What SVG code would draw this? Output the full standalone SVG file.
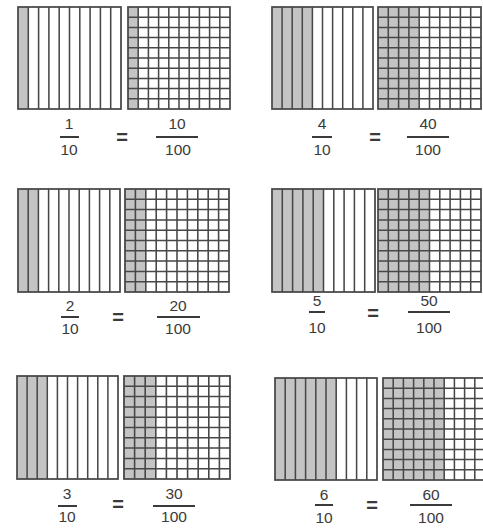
<svg xmlns="http://www.w3.org/2000/svg" width="483" height="532" viewBox="0 0 483 532">
<style>
.bg{fill:#ffffff}
.sh{fill:#c4c4c4}
.ln{stroke:#474747;stroke-width:1.5;fill:none}
.fr{stroke:#474747;stroke-width:1.7;fill:none}
.t{font-family:"Liberation Sans",Arial,sans-serif;font-size:15.5px;fill:#3a3a3a;text-anchor:middle}
.eq{font-family:"Liberation Sans",Arial,sans-serif;font-size:20px;font-weight:bold;fill:#3a3a3a;text-anchor:middle}
.bar{stroke:#3a3a3a;stroke-width:2}
</style>
<defs>
<symbol id="tenths" viewBox="0 0 100 100" preserveAspectRatio="none" overflow="visible">
<path class="ln" d="M10 0V100M20 0V100M30 0V100M40 0V100M50 0V100M60 0V100M70 0V100M80 0V100M90 0V100"/>
<rect class="fr" x="0" y="0" width="100" height="100"/>
</symbol>
<symbol id="hundredths" viewBox="0 0 100 100" preserveAspectRatio="none" overflow="visible">
<path class="ln" d="M10 0V100M20 0V100M30 0V100M40 0V100M50 0V100M60 0V100M70 0V100M80 0V100M90 0V100M0 10H100M0 20H100M0 30H100M0 40H100M0 50H100M0 60H100M0 70H100M0 80H100M0 90H100"/>
<rect class="fr" x="0" y="0" width="100" height="100"/>
</symbol>
</defs>
<rect class="bg" x="0" y="0" width="483" height="532"/>

<g id="panel1">
<rect class="sh" x="18" y="7" width="10.3" height="102"/>
<use href="#tenths" x="18" y="7" width="103" height="102"/>
<rect class="sh" x="128" y="7" width="10.2" height="102"/>
<use href="#hundredths" x="128" y="7" width="102" height="102"/>
<text class="t" x="69" y="129">1</text>
<line class="bar" x1="60" y1="137" x2="79" y2="137"/>
<text class="t" x="69" y="155">10</text>
<text class="eq" x="122" y="144">=</text>
<text class="t" x="177" y="129">10</text>
<line class="bar" x1="156" y1="137" x2="198" y2="137"/>
<text class="t" x="178" y="155">100</text>
</g>

<g id="panel2">
<rect class="sh" x="272" y="7" width="40.4" height="102"/>
<use href="#tenths" x="272" y="7" width="101" height="102"/>
<rect class="sh" x="378" y="7" width="41.2" height="102"/>
<use href="#hundredths" x="378" y="7" width="103" height="102"/>
<text class="t" x="322" y="129">4</text>
<line class="bar" x1="312" y1="137" x2="332" y2="137"/>
<text class="t" x="322" y="155">10</text>
<text class="eq" x="375" y="144">=</text>
<text class="t" x="428" y="129">40</text>
<line class="bar" x1="407" y1="137" x2="449" y2="137"/>
<text class="t" x="428" y="155">100</text>
</g>

<g id="panel3">
<rect class="sh" x="18" y="189" width="20.4" height="103"/>
<use href="#tenths" x="18" y="189" width="102" height="103"/>
<rect class="sh" x="125" y="189" width="20.8" height="103"/>
<use href="#hundredths" x="125" y="189" width="104" height="103"/>
<text class="t" x="70" y="311">2</text>
<line class="bar" x1="61" y1="317" x2="79" y2="317"/>
<text class="t" x="70" y="334">10</text>
<text class="eq" x="118" y="324">=</text>
<text class="t" x="178" y="311">20</text>
<line class="bar" x1="157" y1="317" x2="200" y2="317"/>
<text class="t" x="178" y="334">100</text>
</g>

<g id="panel4">
<rect class="sh" x="272" y="189" width="51.5" height="103"/>
<use href="#tenths" x="272" y="189" width="103" height="103"/>
<rect class="sh" x="378" y="189" width="51.5" height="103"/>
<use href="#hundredths" x="378" y="189" width="103" height="103"/>
<text class="t" x="317" y="306">5</text>
<line class="bar" x1="309" y1="312" x2="325" y2="312"/>
<text class="t" x="317" y="333">10</text>
<text class="eq" x="373" y="320">=</text>
<text class="t" x="429" y="306">50</text>
<line class="bar" x1="408" y1="312" x2="450" y2="312"/>
<text class="t" x="429" y="333">100</text>
</g>

<g id="panel5">
<rect class="sh" x="17" y="376" width="30.3" height="103"/>
<use href="#tenths" x="17" y="376" width="101" height="103"/>
<rect class="sh" x="124" y="376" width="31.8" height="103"/>
<use href="#hundredths" x="124" y="376" width="106" height="103"/>
<text class="t" x="67" y="499">3</text>
<line class="bar" x1="58" y1="506" x2="77" y2="506"/>
<text class="t" x="67" y="522">10</text>
<text class="eq" x="118" y="511">=</text>
<text class="t" x="174" y="499">30</text>
<line class="bar" x1="153" y1="506" x2="195" y2="506"/>
<text class="t" x="174" y="522">100</text>
</g>

<g id="panel6">
<rect class="sh" x="275" y="378" width="61.2" height="102"/>
<use href="#tenths" x="275" y="378" width="102" height="102"/>
<rect class="sh" x="383" y="378" width="61.2" height="102"/>
<use href="#hundredths" x="383" y="378" width="102" height="102"/>
<text class="t" x="324" y="500">6</text>
<line class="bar" x1="315" y1="505" x2="333" y2="505"/>
<text class="t" x="324" y="523">10</text>
<text class="eq" x="372" y="512">=</text>
<text class="t" x="431" y="500">60</text>
<line class="bar" x1="410" y1="505" x2="452" y2="505"/>
<text class="t" x="431" y="523">100</text>
</g>
</svg>
